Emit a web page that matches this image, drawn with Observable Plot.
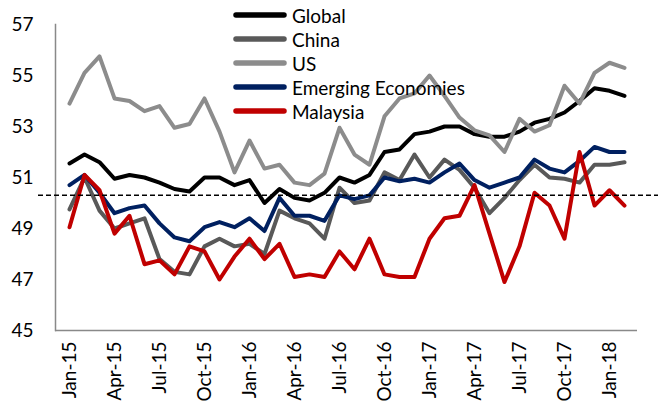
<!DOCTYPE html>
<html><head><meta charset="utf-8">
<script src="https://cdn.jsdelivr.net/npm/d3@7"></script>
<script src="https://cdn.jsdelivr.net/npm/@observablehq/plot@0.6"></script>
<style>
body{margin:0;background:#fff}
#wrap{position:relative;width:658px;height:403px;font-family:Lato,sans-serif}
#legend{position:absolute;left:233px;top:3px}
.row{display:flex;align-items:center;height:24px;font-size:19px;color:#000;white-space:nowrap}
.row svg{margin-right:5px;display:block}
</style></head>
<body><div id="wrap"><div id="chart"></div><div id="legend"></div></div>
<script>
const months = ["Jan-15","Feb-15","Mar-15","Apr-15","May-15","Jun-15","Jul-15","Aug-15","Sep-15","Oct-15","Nov-15","Dec-15",
"Jan-16","Feb-16","Mar-16","Apr-16","May-16","Jun-16","Jul-16","Aug-16","Sep-16","Oct-16","Nov-16","Dec-16",
"Jan-17","Feb-17","Mar-17","Apr-17","May-17","Jun-17","Jul-17","Aug-17","Sep-17","Oct-17","Nov-17","Dec-17",
"Jan-18","Feb-18"];
const xTicks = ["Jan-15","Apr-15","Jul-15","Oct-15","Jan-16","Apr-16","Jul-16","Oct-16","Jan-17","Apr-17","Jul-17","Oct-17","Jan-18"];
const yTicks = [45,47,49,51,53,55,57];
const global = [51.55,51.9,51.6,50.95,51.1,51.0,50.8,50.55,50.45,51.0,51.0,50.7,50.9,50.0,50.55,50.2,50.1,50.4,51.0,50.8,51.1,52.0,52.1,52.7,52.8,53.0,53.0,52.7,52.6,52.6,52.8,53.15,53.3,53.55,54.0,54.5,54.4,54.2];
const china = [49.75,51.0,49.7,49.0,49.2,49.4,47.8,47.3,47.2,48.3,48.6,48.3,48.4,48.0,49.7,49.4,49.2,48.6,50.6,50.0,50.1,51.2,50.9,51.9,51.0,51.7,51.3,50.6,49.6,50.2,50.9,51.5,51.0,50.95,50.8,51.5,51.5,51.6];
const us = [53.9,55.1,55.75,54.1,54.0,53.6,53.8,52.95,53.1,54.1,52.8,51.2,52.45,51.35,51.5,50.8,50.7,51.15,52.95,51.9,51.5,53.4,54.1,54.3,55.0,54.2,53.35,52.85,52.65,52.0,53.3,52.8,53.05,54.6,53.9,55.1,55.5,55.3];
const emerging = [50.7,51.1,50.4,49.6,49.8,49.9,49.2,48.65,48.5,49.05,49.25,49.05,49.4,48.9,50.2,49.5,49.5,49.3,50.3,50.15,50.3,51.0,50.85,50.95,50.8,51.2,51.55,50.9,50.6,50.8,51.0,51.7,51.35,51.2,51.65,52.2,52.0,52.0];
const malaysia = [49.05,51.1,50.5,48.8,49.5,47.6,47.75,47.2,48.3,48.1,47.0,47.9,48.6,47.8,48.4,47.1,47.2,47.1,48.1,47.4,48.6,47.2,47.1,47.1,48.6,49.4,49.5,50.7,48.8,46.9,48.3,50.4,49.9,48.6,52.0,49.9,50.5,49.9];
const threshold = 50.3;
const seriesNames = ["Global","China","US","Emerging Economies","Malaysia"];
const seriesValues = [global, china, us, emerging, malaysia];
const seriesColors = ["#000000","#595959","#8c8c8c","#002060","#c00000"];

const lines = seriesNames.map((name, k) =>
  Plot.lineY(months.map((m, i) => ({month: m, value: seriesValues[k][i]})),
    {x: "month", y: "value", stroke: seriesColors[k], strokeWidth: 4, strokeLinejoin: "round"}));

const chart = Plot.plot({
  width: 658, height: 403,
  marginLeft: 55, marginRight: 21, marginTop: 24, marginBottom: 73,
  x: {type: "point", domain: months, padding: 0.5},
  y: {domain: [45, 57]},
  style: {fontFamily: "Lato, sans-serif", fontSize: "19px", color: "#000", background: "#fff"},
  marks: [
    Plot.frame({anchor: "left", stroke: "#898989", strokeWidth: 1.5}),
    Plot.ruleY([45], {stroke: "#898989", strokeWidth: 1.5}),
    Plot.axisY({ticks: yTicks, tickSize: 0, tickPadding: 22, label: null}),
    Plot.axisX({ticks: xTicks, tickSize: 0, tickPadding: 11, tickRotate: -90, label: null}),
    ...lines,
    Plot.ruleY([threshold], {stroke: "#000", strokeWidth: 1.5, strokeDasharray: "5,3", insetLeft: -17, insetRight: -21})
  ]
});
document.getElementById("chart").appendChild(chart);

const legend = document.getElementById("legend");
seriesNames.forEach((name, k) => {
  const row = document.createElement("div");
  row.className = "row";
  row.innerHTML = `<svg width="54" height="10"><line x1="3" y1="5" x2="51" y2="5" stroke="${seriesColors[k]}" stroke-width="5.5" stroke-linecap="round"/></svg><span>${name}</span>`;
  legend.appendChild(row);
});
</script>
</body></html>
